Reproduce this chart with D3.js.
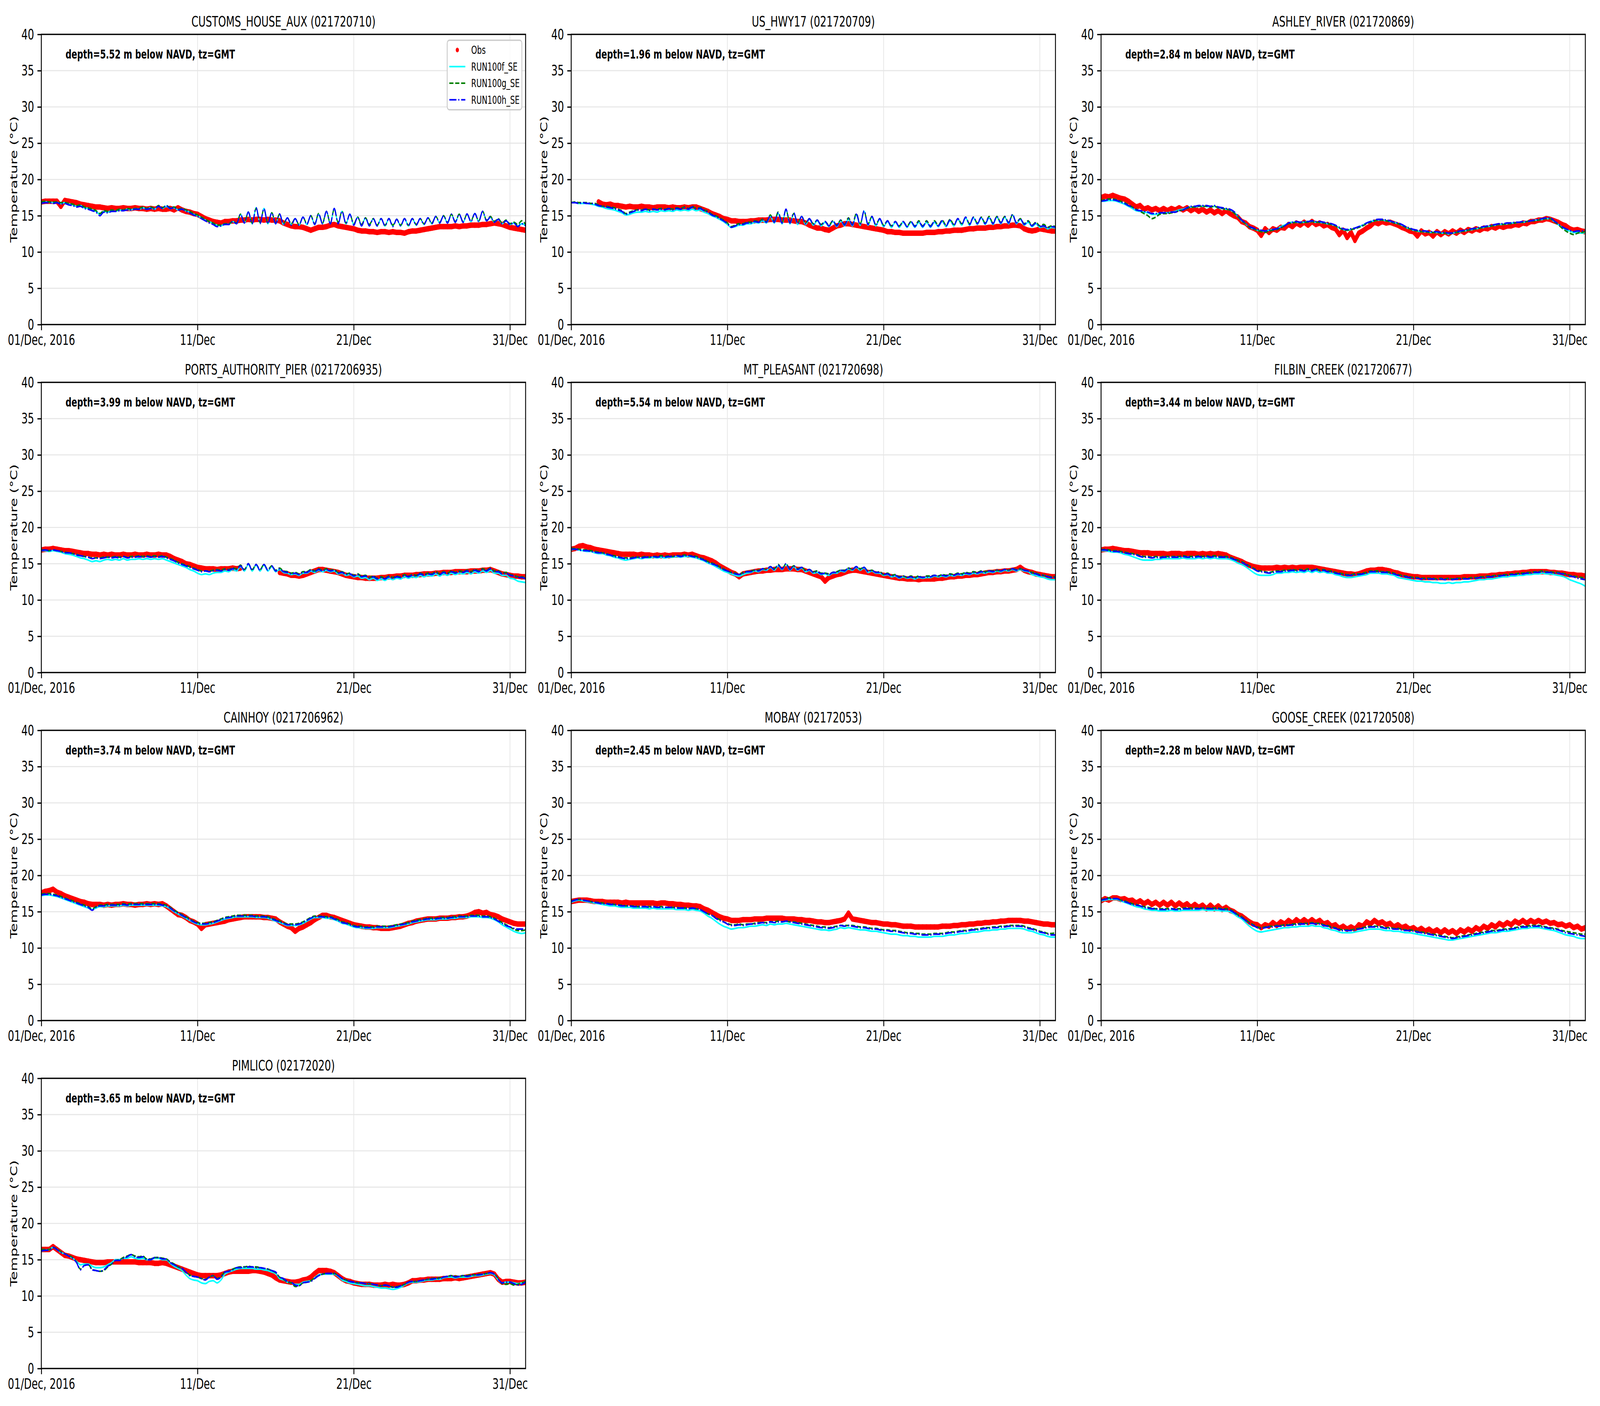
<!DOCTYPE html>
<html><head><meta charset="utf-8">
<script src="https://cdn.jsdelivr.net/npm/d3@7"></script>
<style>html,body{margin:0;padding:0;background:#fff;overflow:hidden} svg{display:block} text{font-family:"DejaVu Sans",sans-serif}</style>
</head><body><svg id="chart"></svg>
<script>
const stationNames = ["CUSTOMS_HOUSE_AUX","US_HWY17","ASHLEY_RIVER","PORTS_AUTHORITY_PIER","MT_PLEASANT","FILBIN_CREEK","CAINHOY","MOBAY","GOOSE_CREEK","PIMLICO"];
const stationIds = ["021720710","021720709","021720869","0217206935","021720698","021720677","0217206962","02172053","021720508","02172020"];
const depths = ["5.52","1.96","2.84","3.99","5.54","3.44","3.74","2.45","2.28","3.65"];
const seriesNames = ["Obs","RUN100f_SE","RUN100g_SE","RUN100h_SE"];
const xTickDates = ["2016-12-01T00:00:00Z","2016-12-11T00:00:00Z","2016-12-21T00:00:00Z","2016-12-31T00:00:00Z"];
const xTickLabels = ["01/Dec, 2016","11/Dec","21/Dec","31/Dec"];
const yTicks = [0,5,10,15,20,25,30,35,40];
const xDomain = ["2016-12-01T00:00:00Z","2017-01-01T00:00:00Z"];
const yDomain = [0,40];
const startTime = "2016-12-01T00:00:00Z";
const stepHours = 6;

const obs_01 = [16.9,17.0,17.0,17.0, 17.0,16.3,17.1,17.0, 16.9,16.8,16.6,16.5, 16.4,16.3,16.2,16.2,
16.1,16.0,16.1,16.0, 16.0,16.1,16.0,16.0, 16.1,16.0,16.0,15.9, 16.0,15.9,16.0,15.9,
15.9,16.0,15.8,16.1, 15.8,15.6,15.5,15.3, 15.2,14.9,14.6,14.4, 14.2,14.1,14.0,14.2,
14.2,14.3,14.3,14.4, 14.4,14.5,14.4,14.5, 14.5,14.4,14.5,14.4, 14.4,14.3,14.0,13.8,
13.6,13.5,13.5,13.4, 13.2,13.0,13.2,13.4, 13.4,13.5,13.7,13.8, 13.6,13.5,13.4,13.3,
13.2,13.0,12.9,12.9, 12.8,12.8,12.7,12.8, 12.8,12.7,12.8,12.7, 12.7,12.6,12.8,12.9,
12.9,13.0,13.1,13.2, 13.3,13.4,13.5,13.5, 13.5,13.5,13.6,13.5, 13.6,13.6,13.7,13.7,
13.7,13.8,13.8,13.9, 14.0,13.9,13.8,13.6, 13.4,13.3,13.2,13.1, 13.0];
const f_01 = [16.8,16.9,16.9,16.8, 16.8,16.7,16.8,16.6, 16.5,16.3,16.4,16.1, 16.0,15.8,15.6,15.2,
15.6,15.5,15.7,15.6, 15.8,15.7,15.9,15.8, 16.0,15.9,16.1,15.9, 16.1,15.9,16.3,16.0,
16.3,16.0,16.1,15.8, 15.9,15.7,15.5,15.2, 15.0,14.7,14.4,14.2, 13.9,13.7,13.6,13.9,
13.8,14.2,13.9,15.2, 14.0,15.5,13.9,16.1, 14.0,16.0,13.9,15.4, 13.9,15.2,13.8,14.7,
13.8,14.6,13.7,14.8, 13.8,15.0,13.8,15.2, 13.9,15.6,13.9,16.0, 14.0,15.6,13.9,15.2,
13.8,14.8,13.7,14.7, 13.7,14.6,13.6,14.6, 13.6,14.6,13.6,14.5, 13.6,14.6,13.6,14.6,
13.7,14.6,13.8,14.7, 13.9,14.9,14.0,15.0, 14.0,15.2,14.1,15.2, 14.1,15.2,14.2,15.3,
14.2,15.6,14.3,14.8, 14.1,14.5,13.9,14.3, 13.8,14.0,13.6,13.9, 13.7];
const g_01 = [16.9,17.0,16.9,16.9, 16.9,16.8,16.8,16.7, 16.6,16.4,16.5,16.2, 16.1,15.9,15.7,15.3,
15.7,15.6,15.8,15.7, 15.9,15.8,16.0,15.9, 16.0,16.0,16.2,16.0, 16.2,16.0,16.4,16.1,
16.4,16.1,16.2,15.9, 16.0,15.8,15.6,15.3, 15.1,14.8,14.5,14.2, 14.0,13.7,13.7,13.9,
13.9,14.2,14.0,15.2, 14.1,15.5,14.0,16.0, 14.1,15.9,14.0,15.4, 14.0,15.2,13.9,14.7,
13.9,14.6,13.8,14.8, 13.9,15.0,13.9,15.3, 14.0,15.6,14.0,15.9, 14.1,15.6,14.0,15.2,
13.9,14.8,13.8,14.7, 13.8,14.6,13.7,14.6, 13.7,14.6,13.7,14.5, 13.7,14.6,13.7,14.6,
13.8,14.6,13.9,14.7, 14.0,14.9,14.1,15.0, 14.1,15.2,14.2,15.2, 14.2,15.2,14.3,15.3,
14.3,15.6,14.4,14.9, 14.2,14.6,14.0,14.4, 13.9,14.1,13.8,14.3, 13.8];
const h_01 = [16.7,16.8,16.8,16.7, 16.8,16.6,16.7,16.5, 16.4,16.2,16.3,16.0, 15.9,15.7,15.5,15.0,
15.5,15.4,15.6,15.6, 15.7,15.7,15.8,15.8, 15.9,15.9,16.0,15.9, 16.0,15.9,16.3,16.0,
16.4,16.0,16.1,15.8, 15.9,15.6,15.4,15.1, 14.9,14.6,14.3,14.0, 13.8,13.5,13.6,13.8,
13.8,14.2,13.9,15.2, 14.0,15.5,13.9,16.1, 13.9,16.0,13.9,15.4, 13.9,15.25,13.8,14.7,
13.7,14.6,13.7,14.8, 13.8,15.0,13.8,15.25, 13.9,15.6,13.9,16.0, 13.9,15.6,13.9,15.2,
13.7,14.8,13.6,14.7, 13.6,14.6,13.6,14.6, 13.6,14.6,13.5,14.5, 13.6,14.6,13.6,14.6,
13.7,14.6,13.8,14.7, 13.9,14.9,14.0,15.0, 14.0,15.2,14.1,15.2, 14.1,15.25,14.2,15.3,
14.2,15.6,14.3,14.8, 14.1,14.5,13.9,14.3, 13.8,14.0,13.5,13.9, 13.6];

const obs_02 = [null,null,null,null, null,null,null,16.9, 16.6,16.5,16.6,16.4, 16.4,16.3,16.2,16.3,
16.2,16.2,16.3,16.2, 16.2,16.1,16.2,16.2, 16.2,16.1,16.2,16.1, 16.1,16.2,16.1,16.2,
16.2,16.0,15.8,15.6, 15.3,15.1,14.9,14.6, 14.5,14.3,14.3,14.2, 14.2,14.2,14.3,14.3,
14.4,14.4,14.4,14.5, 14.5,14.5,14.4,14.4, 14.4,14.3,14.2,14.2, 14.0,13.7,13.5,13.3,
13.3,13.1,13.0,13.3, 13.6,13.7,13.9,13.9, 13.8,13.7,13.6,13.5, 13.4,13.3,13.2,13.1,
13.0,12.8,12.8,12.7, 12.7,12.6,12.6,12.6, 12.6,12.6,12.6,12.7, 12.7,12.7,12.8,12.8,
12.9,12.9,13.0,13.0, 13.0,13.1,13.2,13.2, 13.3,13.3,13.3,13.4, 13.4,13.5,13.5,13.6,
13.6,13.7,13.7,13.6, 13.2,13.0,12.9,13.0, 13.2,13.1,13.0,12.9, 12.9];
const f_02 = [16.8,16.8,16.7,16.7, 16.7,16.6,16.5,16.3, 16.2,16.0,15.9,15.8, 15.6,15.4,15.1,15.2,
15.4,15.5,15.5,15.6, 15.5,15.6,15.5,15.7, 15.6,15.7,15.6,15.8, 15.7,15.8,15.7,15.9,
15.7,15.8,15.5,15.3, 15.0,14.8,14.5,14.2, 13.8,13.4,13.5,13.7, 13.7,13.9,13.9,14.1,
14.0,14.3,14.0,14.9, 14.0,15.3,13.9,15.8, 13.9,15.3,13.8,14.9, 13.8,14.5,13.7,14.3,
13.6,14.1,13.5,14.2, 13.5,14.3,13.6,14.5, 13.6,15.1,13.7,15.6, 13.7,14.8,13.6,14.5,
13.5,14.2,13.4,14.1, 13.4,14.1,13.4,14.1, 13.4,14.1,13.4,14.1, 13.4,14.1,13.5,14.2,
13.5,14.3,13.6,14.5, 13.7,14.7,13.7,14.7, 13.8,14.7,13.8,14.7, 13.8,14.8,13.9,14.8,
13.9,15.1,13.9,14.5, 13.7,14.1,13.5,13.9, 13.4,13.5,13.2,13.4, 13.3];
const g_02 = [16.8,16.9,16.8,16.8, 16.8,16.7,16.7,16.5, 16.3,16.3,16.2,16.1, 15.9,15.7,15.3,15.5,
15.7,15.8,15.8,15.9, 15.8,15.9,15.9,16.0, 15.9,16.0,15.9,16.1, 16.0,16.2,16.0,16.3,
16.0,16.1,15.8,15.6, 15.2,15.0,14.7,14.4, 14.0,13.5,13.7,13.9, 13.9,14.1,14.1,14.3,
14.2,14.5,14.2,15.1, 14.2,15.5,14.1,15.8, 14.1,15.3,14.0,14.9, 14.0,14.6,13.9,14.4,
13.8,14.2,13.7,14.3, 13.7,14.4,13.8,14.7, 13.8,15.3,13.9,15.6, 13.9,14.9,13.8,14.6,
13.7,14.3,13.6,14.2, 13.6,14.2,13.6,14.2, 13.6,14.3,13.6,14.3, 13.6,14.3,13.7,14.4,
13.7,14.5,13.8,14.6, 13.9,14.8,13.9,14.8, 14.0,14.8,14.0,14.9, 14.0,14.9,14.1,14.9,
14.1,15.1,14.1,14.6, 13.9,14.3,13.7,14.1, 13.6,13.8,13.4,13.6, 13.5];
const h_02 = [16.8,16.8,16.7,16.8, 16.7,16.7,16.6,16.4, 16.3,16.2,16.1,16.0, 15.8,15.6,15.2,15.4,
15.6,15.8,15.7,15.9, 15.7,15.9,15.8,15.9, 15.8,16.0,15.8,16.0, 15.9,16.1,15.9,16.2,
15.9,16.0,15.7,15.5, 15.1,14.9,14.6,14.3, 13.9,13.4,13.6,13.8, 13.8,14.0,14.0,14.2,
14.1,14.4,14.1,15.0, 14.1,15.4,14.0,15.9, 14.0,15.4,13.9,14.9, 13.9,14.6,13.8,14.4,
13.7,14.2,13.6,14.3, 13.6,14.4,13.7,14.6, 13.7,15.2,13.8,15.7, 13.8,14.9,13.7,14.6,
13.6,14.3,13.5,14.2, 13.5,14.2,13.5,14.2, 13.5,14.2,13.5,14.2, 13.5,14.2,13.6,14.3,
13.6,14.4,13.7,14.6, 13.8,14.8,13.8,14.8, 13.9,14.8,13.9,14.8, 13.9,14.9,14.0,14.9,
14.0,15.2,14.0,14.6, 13.8,14.2,13.6,14.0, 13.5,13.6,13.3,13.5, 13.4];

const obs_03 = [17.5,17.7,17.6,17.8, 17.6,17.4,17.3,17.0, 16.6,16.2,16.4,15.9, 16.1,15.8,16.0,15.7,
16.0,15.7,16.0,15.8, 16.1,15.8,16.1,15.7, 16.0,15.6,15.9,15.5, 15.8,15.4,15.7,15.3,
15.7,15.3,15.0,14.8, 14.2,14.0,13.5,13.3, 13.0,12.3,13.2,12.7, 13.2,13.0,13.4,13.3,
13.8,13.5,14.0,13.7, 14.1,13.7,14.2,13.8, 14.0,13.6,13.8,13.4, 13.2,12.4,13.0,12.0,
12.7,11.6,12.6,12.9, 13.3,13.6,14.1,13.9, 14.2,14.0,14.1,13.9, 13.7,13.4,13.2,12.9,
12.8,12.2,12.9,12.5, 12.7,12.2,12.8,12.4, 12.8,12.5,12.9,12.6, 13.0,12.7,13.1,12.9,
13.2,13.0,13.3,13.2, 13.5,13.3,13.6,13.4, 13.6,13.6,13.8,13.7, 14.0,13.9,14.2,14.2,
14.4,14.4,14.6,14.5, 14.3,14.1,13.8,13.6, 13.2,13.0,13.1,12.9, 12.8];
const f_03 = [17.0,17.0,17.1,17.1, 17.0,16.8,16.6,16.3, 16.0,15.7,15.6,15.5, 15.4,15.2,15.2,15.3,
15.4,15.4,15.5,15.6, 15.8,15.9,16.1,16.2, 16.2,16.3,16.3,16.3, 16.2,16.3,16.1,16.0,
15.9,15.8,15.5,14.9, 14.3,13.9,13.4,13.2, 13.0,12.9,12.9,13.0, 13.1,13.2,13.5,13.7,
14.0,14.1,14.1,14.1, 14.1,14.2,14.2,14.1, 14.1,14.0,13.9,13.8, 13.6,13.3,13.1,13.0,
13.1,13.3,13.5,13.7, 14.0,14.2,14.3,14.4, 14.4,14.3,14.2,14.1, 13.9,13.7,13.4,13.2,
13.0,12.9,12.8,12.8, 12.7,12.7,12.7,12.6, 12.6,12.5,12.6,12.7, 12.8,12.9,13.0,13.1,
13.2,13.3,13.4,13.5, 13.6,13.7,13.8,13.8, 13.9,14.0,14.0,14.1, 14.1,14.2,14.3,14.4,
14.4,14.5,14.6,14.6, 14.2,13.8,13.4,13.1, 12.9,12.7,12.7,12.6, 12.7];
const g_03 = [17.1,17.2,17.3,17.3, 17.2,17.0,16.8,16.5, 16.2,15.9,15.6,15.3, 15.0,14.6,14.8,15.2,
15.3,15.3,15.4,15.5, 15.7,15.8,16.0,16.2, 16.2,16.3,16.3,16.3, 16.2,16.3,16.1,16.0,
15.9,15.8,15.4,14.9, 14.3,13.9,13.4,13.2, 13.0,12.8,12.7,12.9, 13.0,13.1,13.3,13.6,
13.9,14.0,14.1,14.0, 14.1,14.1,14.2,14.1, 14.1,14.0,13.9,13.8, 13.6,13.3,13.1,13.0,
13.1,13.2,13.4,13.6, 13.9,14.1,14.3,14.4, 14.4,14.3,14.2,14.0, 13.9,13.7,13.4,13.2,
13.0,12.9,12.8,12.8, 12.7,12.7,12.7,12.6, 12.6,12.5,12.6,12.7, 12.8,12.9,13.0,13.1,
13.2,13.3,13.4,13.5, 13.6,13.7,13.8,13.8, 13.9,13.9,14.0,14.1, 14.1,14.2,14.3,14.3,
14.4,14.5,14.6,14.6, 14.2,13.8,13.3,12.9, 12.6,12.4,12.6,12.7, 12.8];
const h_03 = [17.0,17.1,17.2,17.2, 17.1,16.9,16.7,16.4, 16.2,15.8,15.7,15.6, 15.5,15.3,15.3,15.4,
15.4,15.4,15.5,15.5, 15.7,15.8,16.1,16.3, 16.3,16.4,16.4,16.4, 16.3,16.4,16.2,16.1,
16.0,15.9,15.6,15.0, 14.4,14.0,13.5,13.3, 13.1,13.0,12.9,13.0, 13.1,13.2,13.4,13.6,
14.0,14.1,14.2,14.1, 14.2,14.2,14.3,14.2, 14.2,14.1,14.0,13.9, 13.7,13.4,13.2,13.1,
13.2,13.3,13.5,13.7, 14.0,14.2,14.4,14.5, 14.5,14.4,14.3,14.1, 14.0,13.8,13.5,13.3,
13.1,13.0,12.9,12.9, 12.8,12.8,12.8,12.7, 12.7,12.6,12.6,12.8, 12.9,13.0,13.1,13.2,
13.3,13.4,13.5,13.6, 13.7,13.8,13.9,13.9, 14.0,14.0,14.1,14.1, 14.2,14.2,14.3,14.4,
14.5,14.6,14.7,14.7, 14.3,13.9,13.5,13.2, 13.0,12.8,12.9,12.9, 13.0];

const obs_04 = [16.9,17.0,17.0,17.1, 17.0,16.9,16.8,16.8, 16.7,16.6,16.5,16.4, 16.4,16.3,16.3,16.2,
16.3,16.2,16.3,16.2, 16.2,16.3,16.2,16.2, 16.3,16.2,16.2,16.3, 16.2,16.2,16.3,16.2,
16.2,16.0,15.7,15.5, 15.3,15.0,14.9,14.7, 14.5,14.4,14.3,14.3, 14.3,14.2,14.3,14.3,
14.3,14.4,14.3,14.4, null,null,null,null, null,null,null,null, null,13.8,13.7,13.6,
13.4,13.4,13.3,13.4, 13.6,13.8,14.0,14.2, 14.2,14.1,14.0,13.9, 13.8,13.6,13.4,13.3,
13.2,13.1,13.1,13.0, 13.0,13.0,13.0,13.1, 13.1,13.2,13.2,13.3, 13.3,13.4,13.4,13.4,
13.5,13.5,13.6,13.6, 13.6,13.7,13.7,13.8, 13.8,13.8,13.9,13.9, 13.9,13.9,14.0,14.0,
14.0,14.1,14.1,14.2, 14.0,13.8,13.6,13.5, 13.4,13.3,13.3,13.2, 13.2];
const f_04 = [16.8,16.8,16.7,16.8, 16.7,16.6,16.4,16.3, 16.2,16.0,15.8,15.7, 15.5,15.3,15.4,15.3,
15.5,15.6,15.5,15.6, 15.5,15.7,15.5,15.6, 15.6,15.7,15.6,15.7, 15.6,15.7,15.6,15.7,
15.5,15.3,15.1,14.9, 14.7,14.5,14.2,14.0, 13.7,13.5,13.6,13.5, 13.7,13.8,13.8,14.0,
13.9,14.2,14.0,14.6, 14.0,14.9,14.0,14.8, 14.0,14.8,14.0,14.6, 13.9,14.2,13.8,13.7,
13.5,13.6,13.4,13.7, 13.7,14.0,13.8,14.1, 13.9,14.1,13.9,14.0, 13.6,13.7,13.4,13.5,
13.2,13.3,13.0,13.1, 12.8,13.0,12.7,12.9, 12.7,13.0,12.8,13.0, 12.9,13.2,13.0,13.2,
13.1,13.4,13.2,13.4, 13.3,13.6,13.3,13.6, 13.4,13.7,13.5,13.7, 13.6,13.8,13.6,13.9,
13.7,14.0,13.8,14.1, 13.7,13.7,13.4,13.4, 13.0,12.9,12.6,12.5, 12.4];
const g_04 = [16.9,16.9,16.8,16.9, 16.8,16.7,16.6,16.5, 16.4,16.3,16.1,16.0, 15.9,15.8,15.8,15.8,
15.9,15.9,15.9,16.0, 15.9,16.0,15.9,16.0, 16.0,16.1,16.0,16.1, 16.0,16.1,16.0,16.1,
15.9,15.7,15.5,15.2, 15.0,14.8,14.6,14.4, 14.2,14.0,14.0,14.0, 14.1,14.2,14.1,14.3,
14.2,14.4,14.3,14.8, 14.2,15.0,14.2,14.9, 14.2,14.9,14.2,14.7, 14.1,14.4,14.0,13.9,
13.7,13.8,13.6,13.9, 13.9,14.2,14.0,14.3, 14.1,14.3,14.1,14.2, 13.8,13.9,13.6,13.7,
13.4,13.6,13.3,13.4, 13.1,13.3,13.0,13.2, 13.0,13.3,13.1,13.3, 13.2,13.5,13.3,13.5,
13.4,13.7,13.5,13.7, 13.6,13.9,13.6,13.9, 13.7,14.0,13.8,14.0, 13.9,14.1,13.9,14.2,
14.0,14.3,14.1,14.4, 14.0,14.0,13.7,13.8, 13.5,13.4,13.2,13.2, 13.0];
const h_04 = [16.8,16.9,16.8,16.9, 16.8,16.7,16.5,16.5, 16.4,16.2,16.1,16.0, 15.9,15.7,15.8,15.7,
15.8,15.9,15.8,15.9, 15.8,16.0,15.8,15.9, 15.9,16.0,15.9,16.0, 15.9,16.0,15.9,16.0,
15.8,15.6,15.4,15.1, 14.9,14.7,14.5,14.3, 14.1,13.9,14.0,13.9, 14.0,14.1,14.0,14.2,
14.1,14.3,14.2,14.7, 14.1,15.0,14.1,14.9, 14.1,14.9,14.1,14.7, 14.0,14.3,13.9,13.8,
13.6,13.7,13.5,13.8, 13.8,14.1,13.9,14.2, 14.0,14.2,14.0,14.1, 13.7,13.8,13.5,13.6,
13.3,13.5,13.2,13.3, 13.0,13.2,12.9,13.1, 12.9,13.2,13.0,13.2, 13.1,13.4,13.2,13.4,
13.3,13.6,13.4,13.6, 13.5,13.8,13.5,13.8, 13.6,13.9,13.7,13.9, 13.8,14.0,13.8,14.1,
13.9,14.2,14.0,14.3, 13.9,13.9,13.6,13.7, 13.4,13.3,13.1,13.1, 12.9];

const obs_05 = [17.0,17.1,17.4,17.5, 17.3,17.2,17.0,16.9, 16.8,16.7,16.6,16.5, 16.4,16.3,16.3,16.3,
16.3,16.2,16.3,16.2, 16.2,16.1,16.2,16.1, 16.2,16.1,16.2,16.2, 16.2,16.3,16.2,16.3,
16.1,15.9,15.8,15.6, 15.4,15.1,14.7,14.4, 14.1,13.8,13.6,13.2, 13.6,13.7,13.8,13.9,
14.0,14.0,14.1,14.1, 14.2,14.2,14.2,14.3, 14.3,14.3,14.2,14.2, 14.0,13.8,13.6,13.4,
13.2,12.6,13.1,13.3, 13.5,13.6,13.8,14.0, 14.1,14.1,14.0,13.9, 13.8,13.7,13.6,13.5,
13.4,13.3,13.2,13.1, 13.0,13.0,12.9,12.9, 12.9,12.8,12.9,12.9, 12.9,12.9,13.0,13.0,
13.1,13.2,13.2,13.3, 13.3,13.4,13.4,13.5, 13.5,13.6,13.7,13.8, 13.8,13.9,13.9,14.0,
14.0,14.1,14.2,14.5, 14.1,13.9,13.8,13.6, 13.5,13.4,13.3,13.2, 13.2];
const f_05 = [16.9,17.0,16.9,16.8, 16.7,16.7,16.5,16.4, 16.4,16.2,16.1,15.9, 15.8,15.6,15.5,15.6,
15.7,15.8,15.7,15.8, 15.8,15.9,15.8,15.9, 15.8,15.9,15.9,16.0, 15.9,16.0,16.0,15.9,
15.8,15.6,15.4,15.1, 14.9,14.6,14.3,14.0, 13.8,13.6,13.4,13.3, 13.5,13.7,13.8,14.0,
13.9,14.2,14.1,14.5, 14.1,14.7,14.2,14.9, 14.1,14.6,14.1,14.4, 13.9,14.1,13.7,13.8,
13.5,13.6,13.4,13.7, 13.7,14.0,13.9,14.3, 14.1,14.5,14.1,14.4, 13.8,14.0,13.7,13.7,
13.4,13.5,13.2,13.3, 13.0,13.2,13.0,13.1, 12.9,13.1,13.0,13.1, 13.1,13.3,13.2,13.3,
13.2,13.4,13.3,13.5, 13.4,13.6,13.5,13.7, 13.6,13.8,13.7,13.9, 13.8,14.0,13.9,14.1,
14.0,14.2,14.0,14.2, 14.0,13.9,13.5,13.4, 13.2,13.1,12.9,12.8, 12.8];
const g_05 = [17.1,17.1,17.0,16.9, 16.9,16.8,16.7,16.6, 16.5,16.4,16.2,16.1, 16.0,15.8,15.8,15.8,
15.9,15.9,15.9,16.0, 15.9,16.0,16.0,16.1, 16.0,16.1,16.0,16.1, 16.1,16.2,16.1,16.1,
16.0,15.8,15.6,15.3, 15.1,14.9,14.6,14.3, 14.0,13.8,13.7,13.5, 13.8,13.9,14.0,14.1,
14.1,14.3,14.2,14.6, 14.3,14.9,14.3,15.0, 14.3,14.7,14.3,14.5, 14.1,14.2,13.9,14.0,
13.7,13.7,13.6,13.8, 13.9,14.1,14.1,14.4, 14.2,14.6,14.3,14.5, 14.0,14.1,13.8,13.9,
13.5,13.7,13.4,13.5, 13.2,13.3,13.1,13.3, 13.1,13.3,13.1,13.3, 13.3,13.4,13.3,13.5,
13.4,13.6,13.5,13.7, 13.6,13.8,13.7,13.9, 13.8,14.0,13.9,14.0, 14.0,14.1,14.0,14.2,
14.1,14.3,14.2,14.3, 14.1,14.0,13.8,13.7, 13.5,13.4,13.3,13.2, 13.2];
const h_05 = [17.0,17.0,16.9,16.8, 16.8,16.7,16.6,16.5, 16.5,16.3,16.2,16.0, 15.9,15.8,15.7,15.7,
15.8,15.9,15.8,15.9, 15.9,16.0,15.9,16.0, 15.9,16.0,16.0,16.1, 16.0,16.1,16.1,16.0,
15.9,15.7,15.5,15.2, 15.0,14.8,14.5,14.2, 14.0,13.8,13.6,13.5, 13.7,13.9,13.9,14.1,
14.0,14.3,14.2,14.6, 14.2,14.8,14.3,15.0, 14.2,14.7,14.2,14.5, 14.0,14.2,13.8,13.9,
13.6,13.7,13.5,13.8, 13.8,14.1,14.0,14.4, 14.2,14.6,14.2,14.5, 13.9,14.1,13.8,13.8,
13.5,13.6,13.3,13.4, 13.1,13.3,13.1,13.2, 13.0,13.2,13.1,13.2, 13.2,13.4,13.3,13.4,
13.3,13.5,13.4,13.6, 13.5,13.7,13.6,13.8, 13.7,13.9,13.8,14.0, 13.9,14.1,14.0,14.2,
14.1,14.3,14.1,14.3, 14.1,14.0,13.7,13.6, 13.4,13.4,13.2,13.1, 13.1];

const obs_06 = [16.9,17.0,17.0,17.1, 17.0,16.9,16.8,16.8, 16.7,16.6,16.5,16.5, 16.5,16.4,16.4,16.4,
16.4,16.3,16.4,16.4, 16.4,16.3,16.4,16.4, 16.4,16.3,16.4,16.3, 16.4,16.3,16.4,16.3,
16.2,15.9,15.7,15.5, 15.3,15.0,14.8,14.6, 14.5,14.4,14.4,14.4, 14.4,14.5,14.4,14.5,
14.4,14.5,14.4,14.5, 14.5,14.5,14.5,14.4, 14.3,14.2,14.1,14.0, 13.9,13.8,13.7,13.6,
13.6,13.5,13.6,13.8, 14.0,14.1,14.1,14.2, 14.2,14.1,14.0,13.8, 13.7,13.5,13.4,13.3,
13.2,13.2,13.1,13.1, 13.1,13.1,13.1,13.1, 13.1,13.1,13.1,13.1, 13.1,13.2,13.2,13.2,
13.2,13.3,13.3,13.3, 13.4,13.4,13.5,13.5, 13.6,13.6,13.7,13.7, 13.8,13.8,13.9,13.9,
13.9,13.9,13.9,13.8, 13.8,13.7,13.7,13.6, 13.5,13.5,13.4,13.4, 13.3];
const f_06 = [16.8,16.8,16.7,16.6, 16.6,16.5,16.3,16.2, 16.0,15.8,15.6,15.5, 15.5,15.5,15.6,15.6,
15.7,15.7,15.7,15.7, 15.7,15.8,15.7,15.7, 15.7,15.8,15.7,15.8, 15.7,15.8,15.7,15.7,
15.7,15.6,15.4,15.1, 14.9,14.6,14.2,13.8, 13.5,13.4,13.4,13.4, 13.5,13.7,13.7,13.8,
13.8,13.9,13.8,13.9, 13.8,14.0,13.8,14.0, 13.8,13.9,13.7,13.7, 13.5,13.4,13.2,13.1,
13.1,13.2,13.3,13.4, 13.5,13.7,13.7,13.7, 13.6,13.6,13.5,13.4, 13.1,13.0,12.9,12.8,
12.7,12.6,12.6,12.5, 12.5,12.4,12.4,12.3, 12.3,12.4,12.3,12.4, 12.4,12.5,12.5,12.6,
12.7,12.8,12.8,12.9, 12.9,13.0,13.1,13.2, 13.2,13.3,13.3,13.4, 13.4,13.5,13.5,13.6,
13.6,13.7,13.6,13.6, 13.5,13.4,13.3,13.1, 12.8,12.6,12.4,12.2, 11.9];
const g_06 = [16.9,17.0,16.9,16.8, 16.8,16.7,16.6,16.5, 16.4,16.3,16.1,16.0, 16.0,15.9,16.0,15.9,
16.0,16.0,16.0,16.0, 16.0,16.1,16.0,16.0, 16.0,16.1,16.0,16.1, 16.0,16.1,16.0,16.0,
16.0,15.9,15.7,15.5, 15.3,15.0,14.7,14.4, 14.1,14.0,13.9,13.8, 13.9,14.0,14.0,14.1,
14.1,14.2,14.1,14.2, 14.1,14.3,14.1,14.3, 14.1,14.2,14.0,14.0, 13.8,13.7,13.6,13.5,
13.5,13.6,13.6,13.7, 13.8,14.0,14.0,14.0, 13.9,13.9,13.8,13.7, 13.5,13.4,13.3,13.2,
13.1,13.1,13.0,13.0, 13.0,13.0,12.9,13.0, 12.9,13.0,12.9,13.0, 13.0,13.0,13.0,13.1,
13.1,13.2,13.2,13.3, 13.3,13.4,13.4,13.5, 13.5,13.6,13.6,13.7, 13.7,13.8,13.8,13.9,
13.9,14.0,13.9,13.9, 13.8,13.8,13.7,13.6, 13.4,13.3,13.2,13.1, 13.0];
const h_06 = [16.9,16.9,16.8,16.7, 16.7,16.6,16.5,16.4, 16.3,16.2,16.0,15.9, 15.9,15.8,15.9,15.8,
15.9,15.9,15.9,15.9, 15.9,16.0,15.9,15.9, 15.9,16.0,15.9,16.0, 15.9,16.0,15.9,15.9,
15.9,15.8,15.6,15.4, 15.2,14.9,14.6,14.3, 14.0,13.9,13.8,13.7, 13.8,13.9,13.9,14.0,
14.0,14.1,14.0,14.1, 14.0,14.2,14.0,14.2, 14.0,14.1,13.9,13.9, 13.7,13.6,13.5,13.4,
13.4,13.5,13.5,13.6, 13.7,13.9,13.9,13.9, 13.8,13.8,13.7,13.6, 13.4,13.3,13.2,13.1,
13.0,13.0,12.9,12.9, 12.9,12.9,12.8,12.9, 12.8,12.9,12.8,12.9, 12.9,12.9,12.9,13.0,
13.0,13.1,13.1,13.2, 13.2,13.3,13.3,13.4, 13.4,13.5,13.5,13.6, 13.6,13.7,13.7,13.8,
13.8,13.9,13.8,13.8, 13.7,13.7,13.6,13.5, 13.3,13.2,13.0,12.9, 12.8];

const obs_07 = [17.6,17.8,17.9,18.1, 17.7,17.5,17.2,17.0, 16.8,16.6,16.4,16.3, 16.1,16.0,16.0,16.0,
15.9,16.0,15.9,16.0, 16.0,16.1,16.0,16.0, 15.9,16.0,16.0,16.1, 16.0,16.1,16.0,16.1,
15.8,15.4,15.0,14.6, 14.5,14.2,13.8,13.6, 13.3,12.7,13.2,13.3, 13.4,13.5,13.6,13.7,
13.9,14.0,14.1,14.2, 14.3,14.3,14.3,14.3, 14.3,14.2,14.2,14.1, 14.0,13.6,13.3,13.0,
12.8,12.3,12.7,12.9, 13.2,13.5,13.9,14.2, 14.5,14.5,14.3,14.2, 14.0,13.8,13.6,13.4,
13.2,13.1,13.0,12.9, 12.9,12.8,12.8,12.7, 12.7,12.7,12.8,12.9, 13.0,13.2,13.4,13.5,
13.7,13.8,13.9,14.0, 14.0,14.0,14.1,14.1, 14.1,14.2,14.2,14.3, 14.3,14.4,14.6,14.9,
15.0,14.8,14.9,14.6, 14.5,14.3,14.0,13.8, 13.6,13.4,13.3,13.3, 13.3];
const f_07 = [17.2,17.3,17.3,17.2, 17.1,16.9,16.7,16.5, 16.3,16.1,15.9,15.7, 15.5,15.3,15.5,15.7,
15.7,15.8,15.8,15.8, 15.8,15.9,15.8,15.9, 15.9,15.9,15.9,15.9, 15.9,15.9,15.9,15.8,
15.7,15.4,15.0,14.7, 14.4,14.1,13.8,13.5, 13.3,13.2,13.2,13.3, 13.4,13.6,13.8,14.0,
14.1,14.2,14.3,14.3, 14.3,14.3,14.3,14.2, 14.2,14.2,14.1,13.9, 13.7,13.5,13.3,13.1,
13.1,13.1,13.2,13.4, 13.7,14.0,14.2,14.2, 14.2,14.1,14.1,13.9, 13.7,13.4,13.3,13.1,
12.9,12.8,12.8,12.7, 12.7,12.7,12.8,12.8, 12.8,12.8,12.9,13.0, 13.1,13.2,13.3,13.5,
13.6,13.7,13.8,13.9, 13.9,13.9,14.0,14.0, 14.0,14.1,14.1,14.2, 14.2,14.2,14.3,14.3,
14.3,14.2,14.2,14.1, 13.9,13.6,13.2,12.9, 12.6,12.3,12.1,12.0, 12.1];
const g_07 = [17.4,17.5,17.5,17.4, 17.3,17.1,16.9,16.7, 16.5,16.3,16.1,15.9, 15.7,15.4,15.7,15.9,
15.9,16.0,16.0,16.0, 16.0,16.1,16.0,16.1, 16.1,16.1,16.1,16.1, 16.1,16.1,16.1,16.0,
15.9,15.6,15.2,14.9, 14.6,14.3,14.0,13.7, 13.5,13.4,13.4,13.5, 13.6,13.8,14.0,14.2,
14.3,14.4,14.5,14.5, 14.5,14.5,14.5,14.4, 14.4,14.4,14.3,14.1, 13.9,13.7,13.5,13.3,
13.3,13.3,13.4,13.6, 13.9,14.2,14.4,14.4, 14.4,14.3,14.3,14.1, 13.9,13.6,13.5,13.3,
13.1,13.0,13.0,12.9, 12.9,12.9,13.0,13.0, 13.0,13.0,13.1,13.2, 13.3,13.4,13.5,13.7,
13.8,13.9,14.0,14.1, 14.1,14.1,14.2,14.2, 14.2,14.3,14.3,14.4, 14.4,14.4,14.5,14.5,
14.5,14.4,14.4,14.3, 14.1,13.8,13.5,13.2, 12.9,12.6,12.4,12.4, 12.5];
const h_07 = [17.3,17.4,17.4,17.3, 17.2,17.0,16.8,16.6, 16.4,16.2,16.0,15.8, 15.6,15.2,15.6,15.8,
15.8,15.9,15.9,15.9, 15.9,16.0,15.9,16.0, 16.0,16.0,16.0,16.0, 16.0,16.0,16.0,15.9,
15.8,15.5,15.1,14.8, 14.5,14.2,13.9,13.6, 13.4,13.3,13.3,13.4, 13.5,13.7,13.9,14.1,
14.2,14.3,14.4,14.4, 14.4,14.4,14.4,14.3, 14.3,14.3,14.2,14.0, 13.8,13.6,13.4,13.2,
13.2,13.2,13.3,13.5, 13.8,14.1,14.3,14.3, 14.3,14.2,14.2,14.0, 13.8,13.5,13.4,13.2,
13.0,12.9,12.9,12.8, 12.8,12.8,12.9,12.9, 12.9,12.9,13.0,13.1, 13.2,13.3,13.4,13.6,
13.7,13.8,13.9,14.0, 14.0,14.0,14.1,14.1, 14.1,14.2,14.2,14.3, 14.3,14.3,14.4,14.4,
14.4,14.3,14.3,14.2, 14.0,13.7,13.4,13.1, 12.9,12.7,12.6,12.6, 12.6];

const obs_08 = [16.4,16.5,16.6,16.6, 16.6,16.5,16.4,16.4, 16.4,16.3,16.3,16.3, 16.3,16.2,16.3,16.2,
16.2,16.2,16.2,16.2, 16.2,16.2,16.1,16.2, 16.2,16.1,16.1,16.0, 16.0,15.9,15.9,15.8,
15.8,15.7,15.4,15.2, 14.9,14.6,14.3,14.1, 14.0,13.8,13.8,13.8, 13.9,13.9,13.9,14.0,
14.0,14.0,14.1,14.1, 14.1,14.1,14.1,14.0, 14.0,14.0,13.9,13.9, 13.8,13.8,13.7,13.6,
13.6,13.5,13.5,13.6, 13.7,13.8,14.0,14.8, 14.0,13.9,13.8,13.7, 13.6,13.5,13.5,13.4,
13.3,13.3,13.2,13.2, 13.1,13.0,13.0,13.0, 12.9,12.9,12.9,12.9, 12.9,12.9,12.9,13.0,
13.0,13.0,13.1,13.1, 13.2,13.2,13.3,13.3, 13.4,13.4,13.5,13.5, 13.6,13.6,13.7,13.7,
13.8,13.8,13.8,13.8, 13.7,13.7,13.6,13.5, 13.4,13.3,13.3,13.2, 13.2];
const f_08 = [16.3,16.5,16.6,16.5, 16.4,16.3,16.2,16.1, 16.0,15.9,15.8,15.8, 15.7,15.6,15.6,15.6,
15.5,15.5,15.5,15.5, 15.4,15.5,15.4,15.4, 15.4,15.4,15.4,15.3, 15.3,15.3,15.2,15.3,
15.2,15.1,14.8,14.4, 14.1,13.7,13.3,13.0, 12.8,12.6,12.7,12.8, 12.8,12.9,13.0,13.0,
13.1,13.2,13.1,13.3, 13.2,13.3,13.3,13.4, 13.3,13.2,13.1,13.0, 12.9,12.8,12.7,12.6,
12.5,12.5,12.4,12.5, 12.6,12.8,12.7,12.8, 12.7,12.6,12.5,12.5, 12.4,12.3,12.3,12.2,
12.1,12.0,11.9,11.9, 11.8,11.7,11.7,11.6, 11.6,11.5,11.5,11.5, 11.5,11.6,11.6,11.6,
11.7,11.8,11.8,11.9, 12.0,12.0,12.1,12.2, 12.2,12.3,12.4,12.4, 12.5,12.5,12.6,12.6,
12.7,12.7,12.7,12.7, 12.6,12.4,12.3,12.1, 11.9,11.8,11.6,11.5, 11.5];
const g_08 = [16.5,16.6,16.7,16.6, 16.5,16.4,16.3,16.3, 16.2,16.1,16.1,16.0, 15.9,15.9,15.8,15.8,
15.8,15.7,15.7,15.7, 15.7,15.7,15.6,15.7, 15.6,15.6,15.6,15.6, 15.5,15.5,15.5,15.5,
15.4,15.3,15.0,14.7, 14.5,14.2,13.9,13.6, 13.4,13.2,13.2,13.3, 13.2,13.3,13.3,13.4,
13.5,13.5,13.5,13.6, 13.6,13.7,13.6,13.7, 13.6,13.6,13.5,13.4, 13.3,13.2,13.1,13.0,
12.9,12.9,12.8,12.9, 13.0,13.1,13.1,13.1, 13.1,13.0,12.9,12.9, 12.8,12.7,12.7,12.6,
12.5,12.5,12.4,12.4, 12.3,12.2,12.1,12.1, 12.0,12.0,11.9,11.9, 11.9,12.0,12.0,12.0,
12.1,12.2,12.2,12.3, 12.4,12.4,12.5,12.6, 12.6,12.7,12.8,12.8, 12.9,12.9,13.0,13.0,
13.1,13.1,13.1,13.1, 13.0,12.8,12.7,12.5, 12.3,12.2,12.0,12.0, 12.1];
const h_08 = [16.4,16.6,16.7,16.6, 16.5,16.4,16.3,16.2, 16.1,16.1,16.0,16.0, 15.9,15.8,15.8,15.8,
15.7,15.7,15.7,15.7, 15.6,15.7,15.6,15.6, 15.6,15.6,15.6,15.5, 15.5,15.5,15.4,15.5,
15.4,15.3,15.0,14.7, 14.5,14.1,13.8,13.6, 13.3,13.1,13.1,13.2, 13.1,13.2,13.3,13.3,
13.4,13.5,13.4,13.6, 13.5,13.6,13.6,13.7, 13.6,13.5,13.4,13.3, 13.2,13.1,13.0,12.9,
12.8,12.8,12.7,12.8, 12.9,13.1,13.0,13.1, 13.0,12.9,12.8,12.8, 12.7,12.6,12.6,12.5,
12.4,12.4,12.3,12.3, 12.2,12.1,12.0,12.0, 11.9,11.9,11.8,11.8, 11.8,11.9,11.9,11.9,
12.0,12.1,12.1,12.2, 12.3,12.3,12.4,12.5, 12.5,12.6,12.7,12.7, 12.8,12.8,12.9,12.9,
13.0,13.0,13.0,13.0, 12.9,12.7,12.6,12.4, 12.2,12.1,11.9,11.8, 11.8];

const obs_09 = [16.5,16.8,16.6,16.9, 16.9,16.7,16.8,16.5, 16.6,16.2,16.5,16.1, 16.4,16.0,16.3,15.9,
16.3,15.9,16.3,15.8, 16.2,15.8,16.1,15.6, 16.0,15.6,15.9,15.4, 15.9,15.4,15.8,15.3,
15.6,15.2,15.0,14.6, 14.4,14.0,13.6,13.3, 13.2,12.8,13.2,13.0, 13.5,13.1,13.6,13.3,
13.8,13.4,13.9,13.5, 13.9,13.5,13.9,13.5, 13.8,13.3,13.5,13.0, 13.2,12.7,13.0,12.6,
12.9,12.6,13.2,13.0, 13.6,13.3,13.8,13.4, 13.6,13.2,13.4,12.9, 13.2,12.8,13.0,12.6,
12.8,12.4,12.7,12.3, 12.6,12.2,12.5,12.1, 12.5,12.1,12.4,12.0, 12.5,12.2,12.6,12.3,
12.8,12.5,13.0,12.7, 13.2,12.9,13.4,13.1, 13.5,13.2,13.7,13.4, 13.8,13.4,13.8,13.5,
13.8,13.5,13.7,13.4, 13.5,13.2,13.3,13.0, 13.2,12.8,13.0,12.6, 12.8];
const f_09 = [16.5,16.6,16.7,16.7, 16.7,16.5,16.3,16.1, 15.9,15.7,15.6,15.4, 15.3,15.2,15.2,15.1,
15.1,15.1,15.2,15.1, 15.1,15.2,15.2,15.2, 15.2,15.2,15.3,15.2, 15.2,15.2,15.2,15.1,
15.1,15.0,14.7,14.3, 14.0,13.5,13.0,12.6, 12.3,12.2,12.3,12.4, 12.5,12.6,12.7,12.8,
12.8,12.9,12.9,13.0, 13.0,13.0,13.1,13.0, 13.0,12.8,12.7,12.5, 12.4,12.2,12.1,12.1,
12.1,12.2,12.3,12.4, 12.5,12.6,12.6,12.6, 12.5,12.4,12.4,12.3, 12.3,12.2,12.1,12.1,
12.0,11.9,11.8,11.7, 11.6,11.5,11.4,11.3, 11.2,11.1,11.1,11.2, 11.3,11.4,11.5,11.6,
11.7,11.8,11.9,12.0, 12.1,12.1,12.2,12.3, 12.3,12.4,12.5,12.6, 12.7,12.7,12.8,12.8,
12.8,12.7,12.6,12.5, 12.4,12.2,12.0,11.8, 11.7,11.6,11.4,11.3, 11.3];
const g_09 = [16.6,16.8,16.9,16.8, 16.8,16.6,16.5,16.3, 16.1,16.0,15.8,15.7, 15.6,15.5,15.4,15.4,
15.4,15.4,15.4,15.4, 15.4,15.5,15.5,15.5, 15.5,15.5,15.5,15.5, 15.5,15.5,15.5,15.4,
15.4,15.3,15.0,14.6, 14.3,13.9,13.5,13.2, 12.9,12.8,12.9,13.0, 13.0,13.1,13.1,13.2,
13.2,13.3,13.3,13.4, 13.4,13.4,13.5,13.4, 13.4,13.2,13.1,12.9, 12.8,12.6,12.5,12.5,
12.5,12.6,12.7,12.8, 12.9,13.0,13.0,13.0, 12.9,12.8,12.8,12.7, 12.7,12.6,12.5,12.5,
12.4,12.3,12.2,12.1, 12.0,11.9,11.8,11.7, 11.6,11.5,11.4,11.5, 11.6,11.7,11.8,11.9,
12.0,12.1,12.2,12.3, 12.4,12.4,12.5,12.6, 12.6,12.7,12.8,12.9, 13.0,13.0,13.1,13.1,
13.1,13.0,12.9,12.8, 12.7,12.6,12.4,12.3, 12.2,12.1,12.0,11.9, 11.9];
const h_09 = [16.6,16.7,16.8,16.8, 16.8,16.6,16.4,16.2, 16.0,15.9,15.8,15.6, 15.5,15.4,15.4,15.3,
15.3,15.3,15.4,15.3, 15.3,15.4,15.4,15.4, 15.4,15.4,15.5,15.4, 15.4,15.4,15.4,15.3,
15.3,15.2,14.9,14.5, 14.2,13.8,13.4,13.1, 12.8,12.7,12.8,12.9, 12.9,13.0,13.0,13.1,
13.1,13.2,13.2,13.3, 13.3,13.3,13.4,13.3, 13.3,13.1,13.0,12.8, 12.7,12.5,12.4,12.4,
12.4,12.5,12.6,12.7, 12.8,12.9,12.9,12.9, 12.8,12.7,12.7,12.6, 12.6,12.5,12.4,12.4,
12.3,12.2,12.1,12.0, 11.9,11.8,11.7,11.6, 11.5,11.4,11.3,11.4, 11.5,11.6,11.7,11.8,
11.9,12.0,12.1,12.2, 12.3,12.3,12.4,12.5, 12.5,12.6,12.7,12.8, 12.9,12.9,13.0,13.0,
13.0,12.9,12.8,12.7, 12.6,12.5,12.3,12.1, 12.0,11.9,11.8,11.7, 11.6];

const obs_10 = [16.4,16.4,16.4,16.8, 16.4,16.0,15.6,15.5, 15.3,15.1,15.0,14.9, 14.8,14.7,14.6,14.6,
14.6,14.7,14.7,14.7, 14.7,14.7,14.7,14.7, 14.7,14.6,14.6,14.6, 14.6,14.5,14.5,14.6,
14.5,14.3,14.1,13.9, 13.7,13.5,13.3,13.1, 12.9,12.8,12.8,12.8, 12.8,12.8,12.9,13.1,
13.3,13.4,13.4,13.4, 13.4,13.4,13.5,13.5, 13.4,13.3,13.1,12.9, 12.5,12.2,12.1,12.0,
11.9,11.9,12.0,12.2, 12.3,12.6,13.1,13.5, 13.5,13.5,13.4,13.2, 12.8,12.4,12.1,12.0,
11.8,11.7,11.6,11.6, 11.6,11.5,11.5,11.5, 11.6,11.5,11.6,11.5, 11.5,11.6,11.8,12.1,
12.1,12.2,12.2,12.3, 12.3,12.3,12.3,12.4, 12.4,12.4,12.5,12.4, 12.5,12.6,12.7,12.8,
12.9,13.0,13.1,13.2, 13.0,12.3,11.9,12.0, 12.0,11.9,11.8,11.8, 11.9];
const f_10 = [16.2,16.3,16.4,16.7, 16.4,16.0,15.8,15.5, 15.2,14.8,14.3,14.4, 14.4,14.1,13.9,13.9,
14.0,14.3,14.6,15.0, 15.0,15.2,15.2,15.4, 15.2,15.1,15.2,15.0, 15.0,15.2,15.2,15.0,
15.0,14.5,14.1,13.8, 13.5,12.9,12.4,12.2, 12.1,11.8,11.7,12.0, 12.1,11.8,12.2,13.0,
13.3,13.5,13.7,13.8, 13.8,13.8,13.8,13.7, 13.7,13.6,13.5,13.3, 13.1,12.4,12.2,11.9,
11.8,11.6,11.6,11.9, 12.0,12.1,12.5,12.9, 13.0,13.0,13.0,13.0, 12.7,12.2,12.0,11.8,
11.7,11.6,11.5,11.4, 11.4,11.3,11.2,11.1, 11.1,11.0,10.9,11.0, 11.2,11.5,11.8,11.9,
11.9,12.0,12.1,12.2, 12.2,12.3,12.3,12.5, 12.6,12.6,12.5,12.6, 12.6,12.6,12.7,12.8,
12.8,12.9,13.0,13.1, 12.9,12.2,11.8,11.9, 11.9,11.8,11.7,11.8, 12.0];
const g_10 = [16.4,16.4,16.4,16.7, 16.5,16.1,15.8,15.6, 15.3,14.7,13.7,14.2, 14.3,13.7,13.5,13.4,
13.5,14.0,14.4,14.9, 15.0,15.3,15.5,15.7, 15.5,15.4,15.5,15.1, 15.1,15.3,15.3,15.2,
15.1,14.7,14.4,14.0, 13.8,13.3,12.9,12.7, 12.6,12.4,12.3,12.6, 12.8,12.4,12.7,13.3,
13.4,13.7,13.9,14.0, 14.0,14.1,14.0,14.0, 13.9,13.8,13.7,13.5, 13.2,12.6,12.3,11.9,
11.8,11.3,11.4,11.8, 11.9,12.1,12.5,12.8, 13.0,13.1,13.1,13.1, 12.8,12.4,12.2,12.0,
11.9,11.8,11.8,11.7, 11.7,11.6,11.5,11.4, 11.5,11.4,11.2,11.3, 11.4,11.6,11.9,12.0,
12.0,12.1,12.2,12.3, 12.4,12.4,12.5,12.6, 12.7,12.8,12.7,12.7, 12.8,12.8,12.9,12.9,
13.0,13.0,13.1,13.2, 13.0,12.4,11.7,11.6, 11.7,11.5,11.6,11.8, 12.0];
const h_10 = [16.2,16.3,16.3,16.7, 16.4,16.0,15.8,15.5, 15.2,14.6,13.6,14.2, 14.3,13.6,13.5,13.4,
13.6,14.1,14.4,14.9, 14.9,15.2,15.4,15.7, 15.4,15.3,15.4,15.0, 15.0,15.3,15.3,15.1,
15.1,14.6,14.3,14.0, 13.8,13.3,12.8,12.7, 12.6,12.4,12.2,12.6, 12.8,12.3,12.6,13.3,
13.4,13.6,13.9,13.9, 14.0,14.0,14.0,13.9, 13.9,13.8,13.7,13.5, 13.3,12.6,12.4,12.0,
11.9,11.5,11.4,11.8, 11.9,12.0,12.4,12.8, 13.0,13.1,13.1,13.1, 12.8,12.4,12.2,12.0,
11.9,11.8,11.8,11.7, 11.7,11.6,11.5,11.4, 11.5,11.4,11.2,11.2, 11.4,11.6,11.9,12.0,
12.0,12.1,12.2,12.3, 12.3,12.4,12.4,12.6, 12.7,12.8,12.6,12.7, 12.8,12.7,12.8,12.9,
12.9,13.0,13.1,13.2, 13.0,12.3,11.8,11.9, 11.9,11.7,11.5,11.6, 11.9];

// ---------- assemble ----------
const obsSeries = [obs_01,obs_02,obs_03,obs_04,obs_05,obs_06,obs_07,obs_08,obs_09,obs_10];
const runF = [f_01,f_02,f_03,f_04,f_05,f_06,f_07,f_08,f_09,f_10];
const runG = [g_01,g_02,g_03,g_04,g_05,g_06,g_07,g_08,g_09,g_10];
const runH = [h_01,h_02,h_03,h_04,h_05,h_06,h_07,h_08,h_09,h_10];

// ---------- styling / layout (figure units: 6000 x 3600) ----------
const FIG_W = 6000, FIG_H = 3600;
const L0 = 155, T0 = 88, COLSTEP = 1987, ROWSTEP = 891, W = 1816, H = 743;
const LW = 4.17, SPINE = 3.33, TICKLEN = 14.6;
const FONT = 37.5;
const lineStyles = [
  {color:"#00ffff", dash:null},
  {color:"#008000", dash:"15.4,6.7"},
  {color:"#0000ff", dash:"26.7,6.7,4.2,6.7"}
];
const obsColor = "#ff0000";

// fit the 6000x3600 figure to whatever the window really offers
const vw = window.innerWidth || FIG_W, vh = window.innerHeight || FIG_H;
const svg = d3.select("#chart")
  .attr("width", vw).attr("height", vh)
  .attr("viewBox", `0 0 ${FIG_W} ${FIG_H}`)
  .attr("preserveAspectRatio", "none");
svg.append("rect").attr("width",FIG_W).attr("height",FIG_H).attr("fill","#ffffff");

const x = d3.scaleUtc().domain(xDomain.map(d=>new Date(d))).range([0,W]);
const y = d3.scaleLinear().domain(yDomain).range([H,0]);
const t0 = Date.parse(startTime);
const toPts = arr => arr.map((v,k)=>({t:new Date(t0 + k*stepHours*3600e3), v:v}));
const lineGen = d3.line().defined(d=>d.v!=null).x(d=>x(d.t)).y(d=>y(d.v)).curve(d3.curveMonotoneX);
const obsLine = d3.line().defined(d=>d.v!=null).x(d=>x(d.t)).y(d=>y(d.v)).curve(d3.curveLinear);
const xTicks = xTickDates.map(d=>new Date(d));

stationNames.forEach((name,i)=>{
  const col = i%3, row = Math.floor(i/3);
  const g = svg.append("g").attr("transform",`translate(${L0+col*COLSTEP},${T0+row*ROWSTEP})`);
  g.append("clipPath").attr("id","clip"+i).append("rect").attr("width",W).attr("height",H);

  const grid = g.append("g");
  grid.selectAll("line.hy").data(yTicks).join("line").attr("class","hy")
    .attr("x1",0).attr("x2",W).attr("y1",d=>y(d)).attr("y2",d=>y(d))
    .attr("stroke","#e6e6e6").attr("stroke-width",2.6);
  grid.selectAll("line.vx").data(xTicks).join("line").attr("class","vx")
    .attr("y1",0).attr("y2",H).attr("x1",d=>x(d)).attr("x2",d=>x(d))
    .attr("stroke","#e6e6e6").attr("stroke-width",2.6);

  const plot = g.append("g").attr("clip-path",`url(#clip${i})`);
  const op = toPts(obsSeries[i]);
  plot.append("path").datum(op).attr("d",obsLine).attr("fill","none")
    .attr("stroke",obsColor).attr("stroke-width",14).attr("stroke-linejoin","round").attr("stroke-linecap","round");
  plot.append("g").selectAll("circle").data(op.filter(d=>d.v!=null)).join("circle")
    .attr("cx",d=>x(d.t)).attr("cy",d=>y(d.v)).attr("r",7).attr("fill",obsColor);
  [runF[i],runG[i],runH[i]].forEach((arr,k)=>{
    const p = plot.append("path").datum(toPts(arr)).attr("d",lineGen).attr("fill","none")
      .attr("stroke",lineStyles[k].color).attr("stroke-width",LW);
    if(lineStyles[k].dash) p.attr("stroke-dasharray",lineStyles[k].dash);
  });

  const xa = g.append("g").attr("transform",`translate(0,${H})`)
    .call(d3.axisBottom(x).tickValues(xTicks).tickFormat((d,k)=>xTickLabels[k]).tickSizeInner(TICKLEN).tickSizeOuter(0).tickPadding(11));
  const ya = g.append("g")
    .call(d3.axisLeft(y).tickValues(yTicks).tickFormat(d3.format("d")).tickSizeInner(TICKLEN).tickSizeOuter(0).tickPadding(12.4));
  [xa,ya].forEach(a=>{
    a.select(".domain").remove();
    a.selectAll(".tick line").attr("stroke","#000").attr("stroke-width",SPINE);
    a.selectAll(".tick text").attr("fill","#000").style("font-size",FONT+"px").style("font-family","DejaVu Sans");
  });
  g.append("rect").attr("width",W).attr("height",H).attr("fill","none").attr("stroke","#000").attr("stroke-width",SPINE);

  g.append("text").attr("x",W/2).attr("y",-20).attr("text-anchor","middle")
    .style("font-size",FONT+"px").attr("fill","#000").text(`${name} (${stationIds[i]})`);
  g.append("text").attr("transform",`translate(-90,${H/2}) rotate(-90)`).attr("text-anchor","middle")
    .style("font-size",FONT+"px").attr("fill","#000").text("Temperature (°C)");
  g.append("text").attr("x",W*0.05).attr("y",62).style("font-size","31.3px").style("font-weight","bold")
    .attr("fill","#000").text(`depth=${depths[i]} m below NAVD, tz=GMT`);

  if(i===0){
    const lg = g.append("g").attr("transform",`translate(${W-294},15)`);
    lg.append("rect").attr("width",280).attr("height",178).attr("rx",8).attr("ry",8)
      .attr("fill","#ffffff").attr("fill-opacity",0.8).attr("stroke","#cccccc").attr("stroke-width",SPINE);
    seriesNames.forEach((s,k)=>{
      const cy = 25 + k*42.5;
      if(k===0){
        lg.append("circle").attr("cx",38).attr("cy",cy).attr("r",6).attr("fill",obsColor);
      } else {
        const st = lineStyles[k-1];
        const ln = lg.append("line").attr("x1",8).attr("x2",68).attr("y1",cy).attr("y2",cy)
          .attr("stroke",st.color).attr("stroke-width",LW);
        if(st.dash) ln.attr("stroke-dasharray",st.dash);
      }
      lg.append("text").attr("x",90).attr("y",cy).attr("dy","0.36em").style("font-size","28px")
        .attr("fill","#000").text(s);
    });
  }
});
</script>
</body></html>
